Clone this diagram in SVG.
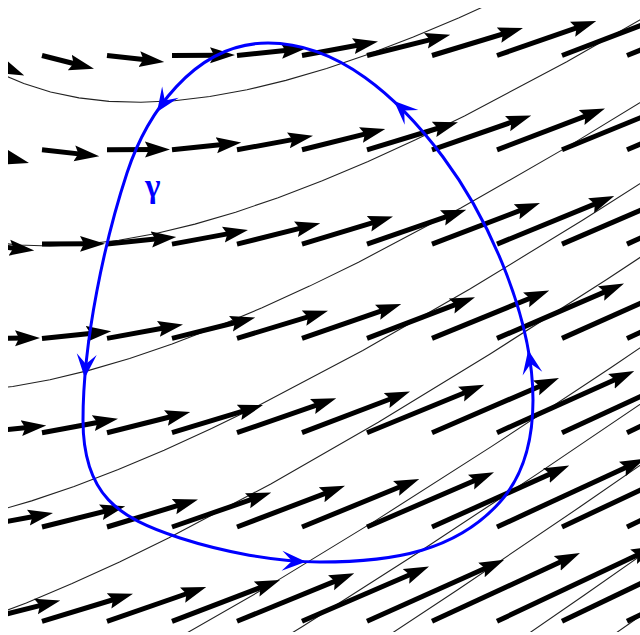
<svg xmlns="http://www.w3.org/2000/svg" xmlns:xlink="http://www.w3.org/1999/xlink" width="640" height="635" viewBox="0 0 640 635">
<style>
.q{fill:none;stroke:#000;stroke-width:5;marker-end:url(#ah)}
.sl{fill:none;stroke:#222;stroke-width:1.1}
.gam{font-family:'Liberation Serif','DejaVu Serif',serif;font-weight:bold;font-size:33px;fill:#0000ff}
</style>
<defs>
<clipPath id="plot"><rect x="8" y="8" width="632" height="624"/></clipPath>
<marker id="ah" viewBox="0 -9 25 18" refX="11" refY="0" markerWidth="25" markerHeight="18" markerUnits="userSpaceOnUse" orient="auto"><path d="M0,-8 L25,0 L0,8 L4,0 Z" fill="#000"/></marker>
<path id="bh" d="M0,0 L-24,-10 L-14,0 L-24,10 Z" fill="#0000ff"/>
<path id="sl" class="sl" d="M-113.2,-118.6 L-80.4,-72 L-42.9,-32.1 L-22.15,-15.03 L0,0 L23.63,12.92 L48.8,23.6 L75.52,31.95 L103.9,37.9 L134.03,41.36 L165.9,42.3 L199.46,40.69 L234.8,36.5 L271.96,29.75 L310.9,20.4 L351.63,8.46 L394.1,-6 L438.27,-22.89 L484.1,-42.2 L531.53,-63.88 L580.5,-87.8 L682.8,-141.9 L790.3,-203.6 L902.5,-272.1 L1018.7,-346.3 L1138.1,-425.2 L1260.1,-507.9 L1384.1,-593.6 L1509.6,-681.3 L1636.1,-770.6 L1763.2,-860.7 L1890.5,-951.1 L2017.8,-1041.4"/>
<path id="k0" class="q" d="M0,0l34.36,14.54"/>
<path id="k1" class="q" d="M0,0l38.43,9.75"/>
<path id="k2" class="q" d="M0,0l43.34,4.84"/>
<path id="k3" class="q" d="M0,0l49,-0.31"/>
<path id="k4" class="q" d="M0,0l55.32,-5.75"/>
<path id="k5" class="q" d="M0,0l62.23,-11.46"/>
<path id="k6" class="q" d="M0,0l69.67,-17.41"/>
<path id="k7" class="q" d="M0,0l77.6,-23.54"/>
<path id="k8" class="q" d="M0,0l86.02,-29.81"/>
<path id="k9" class="q" d="M0,0l94.92,-36.21"/>
<path id="k10" class="q" d="M0,0l104.29,-42.7"/>
<path id="k11" class="q" d="M0,0l114.15,-49.25"/>
<path id="k12" class="q" d="M0,0l124.47,-55.87"/>
<path id="k13" class="q" d="M0,0l135.29,-62.53"/>
<path id="k14" class="q" d="M0,0l146.59,-69.22"/>
<path id="k15" class="q" d="M0,0l158.38,-75.95"/>
<path id="k16" class="q" d="M0,0l170.65,-82.69"/>
</defs>
<rect width="640" height="635" fill="#fff"/>
<g id="streamlines" clip-path="url(#plot)">
<use href="#sl" transform="translate(-25,60)"/>
<use href="#sl" transform="translate(-116,203.7)"/>
<use href="#sl" transform="translate(-222,350)"/>
<use href="#sl" transform="translate(-320,492.4)"/>
<use href="#sl" transform="translate(-412,625.8)"/>
<use href="#sl" transform="translate(-527,792.7)"/>
<use href="#sl" transform="translate(-600,898.6)"/>
<use href="#sl" transform="translate(-680,1014.7)"/>
<use href="#sl" transform="translate(-800,1188.8)"/>
<use href="#sl" transform="translate(-880,1304.8)"/>
</g>
<g id="field" clip-path="url(#plot)">
<use href="#k0" x="-23" y="55.5"/><use href="#k1" x="42" y="55.5"/><use href="#k2" x="107" y="55.5"/><use href="#k3" x="172" y="55.5"/><use href="#k4" x="237" y="55.5"/><use href="#k5" x="302" y="55.5"/><use href="#k6" x="367" y="55.5"/><use href="#k7" x="432" y="55.5"/><use href="#k8" x="497" y="55.5"/><use href="#k9" x="562" y="55.5"/><use href="#k10" x="627" y="55.5"/>
<use href="#k1" x="-23" y="149.8"/><use href="#k2" x="42" y="149.8"/><use href="#k3" x="107" y="149.8"/><use href="#k4" x="172" y="149.8"/><use href="#k5" x="237" y="149.8"/><use href="#k6" x="302" y="149.8"/><use href="#k7" x="367" y="149.8"/><use href="#k8" x="432" y="149.8"/><use href="#k9" x="497" y="149.8"/><use href="#k10" x="562" y="149.8"/><use href="#k11" x="627" y="149.8"/>
<use href="#k2" x="-23" y="244.1"/><use href="#k3" x="42" y="244.1"/><use href="#k4" x="107" y="244.1"/><use href="#k5" x="172" y="244.1"/><use href="#k6" x="237" y="244.1"/><use href="#k7" x="302" y="244.1"/><use href="#k8" x="367" y="244.1"/><use href="#k9" x="432" y="244.1"/><use href="#k10" x="497" y="244.1"/><use href="#k11" x="562" y="244.1"/><use href="#k12" x="627" y="244.1"/>
<use href="#k3" x="-23" y="338.4"/><use href="#k4" x="42" y="338.4"/><use href="#k5" x="107" y="338.4"/><use href="#k6" x="172" y="338.4"/><use href="#k7" x="237" y="338.4"/><use href="#k8" x="302" y="338.4"/><use href="#k9" x="367" y="338.4"/><use href="#k10" x="432" y="338.4"/><use href="#k11" x="497" y="338.4"/><use href="#k12" x="562" y="338.4"/><use href="#k13" x="627" y="338.4"/>
<use href="#k4" x="-23" y="432.7"/><use href="#k5" x="42" y="432.7"/><use href="#k6" x="107" y="432.7"/><use href="#k7" x="172" y="432.7"/><use href="#k8" x="237" y="432.7"/><use href="#k9" x="302" y="432.7"/><use href="#k10" x="367" y="432.7"/><use href="#k11" x="432" y="432.7"/><use href="#k12" x="497" y="432.7"/><use href="#k13" x="562" y="432.7"/><use href="#k14" x="627" y="432.7"/>
<use href="#k5" x="-23" y="527"/><use href="#k6" x="42" y="527"/><use href="#k7" x="107" y="527"/><use href="#k8" x="172" y="527"/><use href="#k9" x="237" y="527"/><use href="#k10" x="302" y="527"/><use href="#k11" x="367" y="527"/><use href="#k12" x="432" y="527"/><use href="#k13" x="497" y="527"/><use href="#k14" x="562" y="527"/><use href="#k15" x="627" y="527"/>
<use href="#k6" x="-23" y="621.3"/><use href="#k7" x="42" y="621.3"/><use href="#k8" x="107" y="621.3"/><use href="#k9" x="172" y="621.3"/><use href="#k10" x="237" y="621.3"/><use href="#k11" x="302" y="621.3"/><use href="#k12" x="367" y="621.3"/><use href="#k13" x="432" y="621.3"/><use href="#k14" x="497" y="621.3"/><use href="#k15" x="562" y="621.3"/><use href="#k16" x="627" y="621.3"/>
</g>
<g id="gamma-curve">
<path d="M268,43 C193,43 145.8,116 127,173 C105.1,239.5 83,340 83,420 C83,495 118.1,518 180,538 C222.8,551.8 275,562 320,562 C395,562 456.7,550.5 500,502 C526.6,472.2 533,435 533,400 C533,320 490.8,221.2 443,157 C398.2,96.9 338,43 268,43 Z" fill="none" stroke="#0000ff" stroke-width="3"/>
<use href="#bh" transform="translate(157,112) rotate(124)"/>
<use href="#bh" transform="translate(84.8,378) rotate(94.6)"/>
<use href="#bh" transform="translate(306,561.7) rotate(2.4)"/>
<use href="#bh" transform="translate(528.2,350) rotate(-100.2)"/>
<use href="#bh" transform="translate(394,101) rotate(-136.9)"/>
<text class="gam" x="145" y="197">γ</text>
</g>
</svg>
